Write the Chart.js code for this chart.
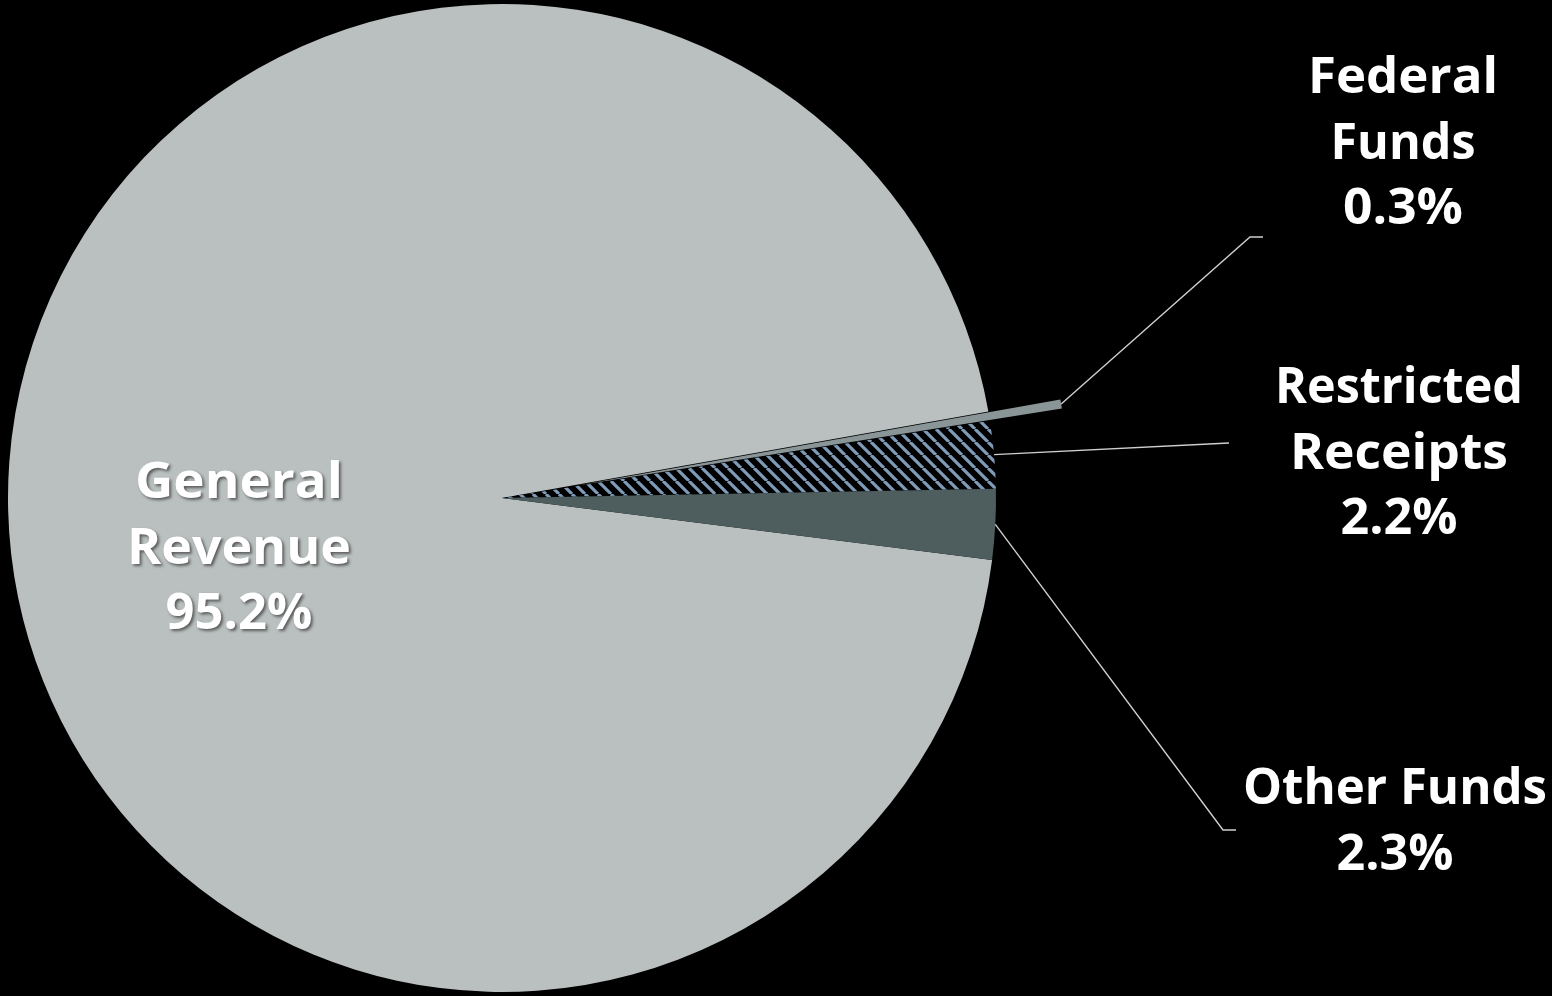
<!DOCTYPE html>
<html><head><meta charset="utf-8">
<script src="https://cdn.jsdelivr.net/npm/chart.js@4.4.0/dist/chart.umd.min.js"></script>
<style>html,body{margin:0;padding:0;background:#000;overflow:hidden}#wrap{width:1552px;height:996px;position:relative}</style>
</head><body><div id="wrap"><canvas id="c" width="1552" height="996"></canvas></div>
<script>
// ---- data ----
const categories = ['General Revenue', 'Federal Funds', 'Restricted Receipts', 'Other Funds'];
const shares = [95.2, 0.3, 2.2, 2.3];
const nameLines = [['General', 'Revenue'], ['Federal', 'Funds'], ['Restricted', 'Receipts'], ['Other Funds']];

// ---- styles ----
function makeHatch() {
  const s = 13;
  const c = document.createElement('canvas');
  c.width = s; c.height = s;
  const g = c.getContext('2d');
  g.fillStyle = '#000';
  g.fillRect(0, 0, s, s);
  g.strokeStyle = '#7f9bb7';
  g.lineWidth = 3.2;
  g.beginPath();
  for (let k = -1; k <= 1; k++) { g.moveTo(k * s, 0); g.lineTo(k * s + s, s); }
  g.stroke();
  return document.getElementById('c').getContext('2d').createPattern(c, 'repeat');
}
const colors = ['#b9c0bf', '#8a9597', makeHatch(), '#4e5d5e'];
const explode = [0, 73, 0, 0]; // px each slice is pulled out from the centre

// label layout (centre x, first baseline, line widths), text style
const labelLayout = [
  { cx: 239, y: 498, widths: [208, 224, 147], shadow: true },
  { cx: 1403, y: 93, widths: [190, 145, 120], shadow: false },
  { cx: 1399, y: 403, widths: [248, 218, 117], shadow: false },
  { cx: 1395, y: 804, widths: [304, 117], shadow: false }
];
const leaderEnds = [null, [[1250, 237], [1263, 237]], [[1229, 443]], [[1223, 830], [1236, 830]]];
const LINE_H = 65.5;
const FONT = 'bold 50px "Open Sans"';

const explodePlugin = {
  id: 'explode',
  afterDatasetUpdate(chart, args) {
    const meta = chart.getDatasetMeta(args.index);
    meta.data.forEach((arc, i) => {
      const d = explode[i] || 0;
      if (!d) return;
      const mid = (arc.startAngle + arc.endAngle) / 2;
      arc.x += Math.cos(mid) * d;
      arc.y += Math.sin(mid) * d;
    });
  }
};

const labelsPlugin = {
  id: 'labels',
  afterDatasetsDraw(chart) {
    const ctx = chart.ctx;
    const meta = chart.getDatasetMeta(0);
    ctx.save();
    ctx.strokeStyle = '#cfcfcf';
    ctx.lineWidth = 1.4;
    meta.data.forEach((arc, i) => {
      const ends = leaderEnds[i];
      if (!ends) return;
      const mid = (arc.startAngle + arc.endAngle) / 2;
      const r = arc.outerRadius;
      ctx.beginPath();
      ctx.moveTo(arc.x + Math.cos(mid) * r, arc.y + Math.sin(mid) * r);
      ends.forEach(p => ctx.lineTo(p[0], p[1]));
      ctx.stroke();
    });
    ctx.font = FONT;
    ctx.textAlign = 'center';
    ctx.textBaseline = 'alphabetic';
    ctx.fillStyle = '#ffffff';
    categories.forEach((cat, i) => {
      const L = labelLayout[i];
      const lines = nameLines[i].concat([shares[i].toFixed(1) + '%']);
      lines.forEach((t, j) => {
        const w = ctx.measureText(t).width;
        const sx = L.widths[j] / w;
        ctx.save();
        if (L.shadow) {
          ctx.shadowColor = 'rgba(60,60,60,0.75)';
          ctx.shadowOffsetX = 2; ctx.shadowOffsetY = 2; ctx.shadowBlur = 3;
        }
        ctx.translate(L.cx, L.y + j * LINE_H);
        ctx.scale(sx, 1);
        ctx.fillText(t, 0, 0);
        ctx.restore();
      });
    });
    ctx.restore();
  }
};

new Chart(document.getElementById('c'), {
  type: 'pie',
  data: {
    labels: categories,
    datasets: [{ data: shares, backgroundColor: colors, borderWidth: 0, clip: false }]
  },
  options: {
    responsive: false,
    animation: false,
    rotation: 97.2,
    radius: 494,
    layout: { padding: { left: 8, right: 556, top: 0, bottom: 0 } },
    plugins: { legend: { display: false }, tooltip: { enabled: false } }
  },
  plugins: [explodePlugin, labelsPlugin]
});
</script>
</body></html>
